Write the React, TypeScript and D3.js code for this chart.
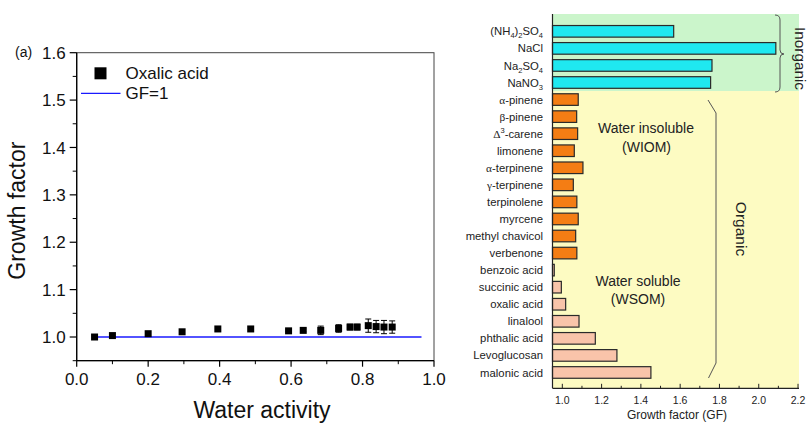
import React from "react";
import * as d3 from "d3";

// ---- panel (a): oxalic acid growth factor vs water activity ----
const waterActivity = [0.05, 0.1, 0.2, 0.295, 0.395, 0.487, 0.593, 0.634, 0.683, 0.733, 0.765, 0.785, 0.816, 0.838, 0.86, 0.883];
const oxalicGF = [1.0, 1.003, 1.007, 1.011, 1.017, 1.017, 1.013, 1.014, 1.014, 1.018, 1.021, 1.021, 1.024, 1.022, 1.021, 1.021];
const oxalicErr = [0, 0, 0, 0, 0, 0, 0.002, 0.003, 0.009, 0.008, 0.006, 0.006, 0.014, 0.013, 0.014, 0.013];
const gfOneRange = [0.05, 0.965];

const leftXTicks = [0, 0.2, 0.4, 0.6, 0.8, 1.0];
const leftXMinor = [0.1, 0.3, 0.5, 0.7, 0.9];
const leftYTicks = [1.0, 1.1, 1.2, 1.3, 1.4, 1.5, 1.6];
const leftYMinor = [0.95, 1.05, 1.15, 1.25, 1.35, 1.45, 1.55];

// ---- panel (b): growth factor by compound ----
const inorganicNames = ["(NH4)2SO4", "NaCl", "Na2SO4", "NaNO3"];
const inorganicGF = [1.567, 2.087, 1.762, 1.755];
const wiomNames = ["α-pinene", "β-pinene", "Δ3-carene", "limonene", "α-terpinene", "γ-terpinene", "terpinolene", "myrcene", "methyl chavicol", "verbenone"];
const wiomGF = [1.081, 1.073, 1.078, 1.061, 1.105, 1.056, 1.074, 1.081, 1.068, 1.074];
const wsomNames = ["benzoic acid", "succinic acid", "oxalic acid", "linalool", "phthalic acid", "Levoglucosan", "malonic acid"];
const wsomGF = [0.959, 0.995, 1.017, 1.085, 1.168, 1.278, 1.451];

const rightXTicks = [1.0, 1.2, 1.4, 1.6, 1.8, 2.0, 2.2];
const rightXMinor = [1.1, 1.3, 1.5, 1.7, 1.9, 2.1];

const SANS = "'Liberation Sans', Arial, sans-serif";
const SERIF = "'Liberation Serif', 'DejaVu Serif', serif";

// chemical-ish label: digits become subscripts (superscript after Δ), greek in serif
const ChemLabel = ({ name }: { name: string }) => {
  const parts: React.ReactNode[] = [];
  let shift = 0;
  for (let i = 0; i < name.length; i++) {
    const ch = name[i];
    if (/[0-9]/.test(ch)) {
      const sup = name[i - 1] === "Δ";
      const dy = (sup ? -5 : 3) - shift;
      shift = sup ? -5 : 3;
      parts.push(
        <tspan key={i} dy={dy} fontSize={7.5}>{ch}</tspan>
      );
    } else {
      const dy = -shift;
      shift = 0;
      const greek = /[αβγΔ]/.test(ch);
      parts.push(
        <tspan key={i} dy={dy || undefined} fontFamily={greek ? SERIF : undefined}>{ch}</tspan>
      );
    }
  }
  return <>{parts}</>;
};

export default function App() {
  // left panel scales
  const xL = d3.scaleLinear().domain([0, 1]).range([76.7, 434]);
  const yL = d3.scaleLinear().domain([0.95, 1.6]).range([360.7, 52.7]);

  // right panel scales
  const xR = d3.scaleLinear().domain([0.95, 2.205]).range([552.5, 799]);
  const allNames = [...inorganicNames, ...wiomNames, ...wsomNames];
  const yR = d3.scaleBand().domain(allNames).range([22.8, 381]).paddingInner(0.32).paddingOuter(0.16);

  const bars = [
    ...inorganicNames.map((n, i) => ({ name: n, v: inorganicGF[i], fill: "#1fe8f0" })),
    ...wiomNames.map((n, i) => ({ name: n, v: wiomGF[i], fill: "#f47d14" })),
    ...wsomNames.map((n, i) => ({ name: n, v: wsomGF[i], fill: "#f9c4aa" })),
  ];

  const step = yR.step();
  const bw = yR.bandwidth();
  const splitY = (yR(inorganicNames[inorganicNames.length - 1]) as number) + bw + (step - bw) / 2;
  const rTop = 14, rBottom = 388.3;
  const x0 = xR.range()[0], x1 = xR.range()[1];

  const points = waterActivity.map((a, i) => ({ a, g: oxalicGF[i], e: oxalicErr[i] }));

  return (
    <svg width={810} height={423} style={{ position: "absolute", left: 0, top: 0, background: "#fff" }} fontFamily={SANS}>
      {/* ===== left panel ===== */}
      <g>
        <rect x={xL(0)} y={yL(1.6)} width={xL(1) - xL(0)} height={yL(0.95) - yL(1.6)} fill="none" stroke="#444" strokeWidth={1} />
        <line x1={xL(gfOneRange[0])} x2={xL(gfOneRange[1])} y1={yL(1)} y2={yL(1)} stroke="#1a1aff" strokeWidth={1.3} />

        {points.map((p, i) => (
          <g key={i}>
            {p.e > 0 && (
              <g stroke="#000" strokeWidth={1}>
                <line x1={xL(p.a)} x2={xL(p.a)} y1={yL(p.g - p.e)} y2={yL(p.g + p.e)} />
                <line x1={xL(p.a) - 3} x2={xL(p.a) + 3} y1={yL(p.g - p.e)} y2={yL(p.g - p.e)} />
                <line x1={xL(p.a) - 3} x2={xL(p.a) + 3} y1={yL(p.g + p.e)} y2={yL(p.g + p.e)} />
              </g>
            )}
            <rect x={xL(p.a) - 3.5} y={yL(p.g) - 3.5} width={7} height={7} fill="#000" />
          </g>
        ))}

        {/* axes */}
        <line x1={xL(0)} x2={xL(0)} y1={yL(1.6)} y2={yL(0.95)} stroke="#000" strokeWidth={1.3} />
        <line x1={xL(0)} x2={xL(1)} y1={yL(0.95)} y2={yL(0.95)} stroke="#000" strokeWidth={1.3} />
        {leftYTicks.map((t) => (
          <g key={t}>
            <line x1={xL(0) - 7} x2={xL(0)} y1={yL(t)} y2={yL(t)} stroke="#000" strokeWidth={1.2} />
            <text x={xL(0) - 11} y={yL(t)} dy="0.36em" textAnchor="end" fontSize={17} fill="#111">{t.toFixed(1)}</text>
          </g>
        ))}
        {leftYMinor.map((t) => (
          <line key={t} x1={xL(0) - 4} x2={xL(0)} y1={yL(t)} y2={yL(t)} stroke="#000" strokeWidth={1} />
        ))}
        {leftXTicks.map((t) => (
          <g key={t}>
            <line x1={xL(t)} x2={xL(t)} y1={yL(0.95)} y2={yL(0.95) + 6} stroke="#000" strokeWidth={1.2} />
            <text x={xL(t)} y={385} textAnchor="middle" fontSize={17} fill="#111">{t.toFixed(1)}</text>
          </g>
        ))}
        {leftXMinor.map((t) => (
          <line key={t} x1={xL(t)} x2={xL(t)} y1={yL(0.95)} y2={yL(0.95) + 3.5} stroke="#000" strokeWidth={1} />
        ))}

        <text x={262} y={418} textAnchor="middle" fontSize={23} fill="#111">Water activity</text>
        <text transform={`translate(25,${(yL(1.6) + yL(0.95)) / 2 + 4}) rotate(-90)`} textAnchor="middle" fontSize={23} fill="#111">Growth factor</text>
        <text x={15} y={57} fontSize={14} fill="#111">(a)</text>

        {/* legend */}
        <rect x={94.5} y={67.3} width={12} height={12} fill="#000" />
        <text x={125.5} y={79.3} fontSize={17} fill="#111">Oxalic acid</text>
        <line x1={81} x2={120.5} y1={93.3} y2={93.3} stroke="#1a1aff" strokeWidth={1.3} />
        <text x={125.5} y={99.3} fontSize={17} fill="#111">GF=1</text>
      </g>

      {/* ===== right panel ===== */}
      <g>
        <rect x={x0} y={rTop} width={x1 - x0} height={splitY - rTop} fill="#cbf5cb" />
        <rect x={x0} y={splitY} width={x1 - x0} height={rBottom - splitY} fill="#fdfbc2" />

        {bars.map((b) => (
          <rect key={b.name} x={x0} y={yR(b.name)} width={xR(b.v) - x0} height={bw} fill={b.fill} stroke="#2a2a2a" strokeWidth={1.2} />
        ))}

        {allNames.map((n) => (
          <text key={n} x={543} y={(yR(n) as number) + bw / 2} dy="0.36em" textAnchor="end" fontSize={11.3} fill="#222">
            <ChemLabel name={n} />
          </text>
        ))}

        {/* axes */}
        <line x1={x0} x2={x0} y1={rTop} y2={rBottom} stroke="#222" strokeWidth={1.2} />
        <line x1={x0} x2={x1} y1={rBottom} y2={rBottom} stroke="#222" strokeWidth={1.2} />
        {rightXTicks.map((t) => (
          <g key={t}>
            <line x1={xR(t)} x2={xR(t)} y1={rBottom} y2={rBottom - 4.5} stroke="#222" strokeWidth={1} />
            <text x={xR(t)} y={404} textAnchor="middle" fontSize={10.5} fill="#222">{t.toFixed(1)}</text>
          </g>
        ))}
        {rightXMinor.map((t) => (
          <line key={t} x1={xR(t)} x2={xR(t)} y1={rBottom} y2={rBottom - 2.5} stroke="#222" strokeWidth={1} />
        ))}
        <text x={677} y={419} textAnchor="middle" fontSize={12} fill="#222">Growth factor (GF)</text>

        {/* group annotations */}
        <path d="M775,15 Q780,15 780,20 L780,50 Q780,54 784,54 Q780,54 780,58 L780,87 Q780,92 775,92" fill="none" stroke="#555" strokeWidth={1} />
        <text transform={`translate(795,58.5) rotate(90)`} textAnchor="middle" fontSize={15.3} fill="#222">Inorganic</text>
        <path d="M708,100 L716,113 L716,363 L708.5,378" fill="none" stroke="#555" strokeWidth={1} />
        <text transform={`translate(735.5,229) rotate(90)`} textAnchor="middle" fontSize={15.5} fill="#222">Organic</text>

        <text x={646} y={133.3} textAnchor="middle" fontSize={14} fill="#222">Water insoluble</text>
        <text x={646.5} y={151.5} textAnchor="middle" fontSize={14} fill="#222">(WIOM)</text>
        <text x={638} y={286} textAnchor="middle" fontSize={14} fill="#222">Water soluble</text>
        <text x={638} y={304} textAnchor="middle" fontSize={14} fill="#222">(WSOM)</text>
      </g>
    </svg>
  );
}
